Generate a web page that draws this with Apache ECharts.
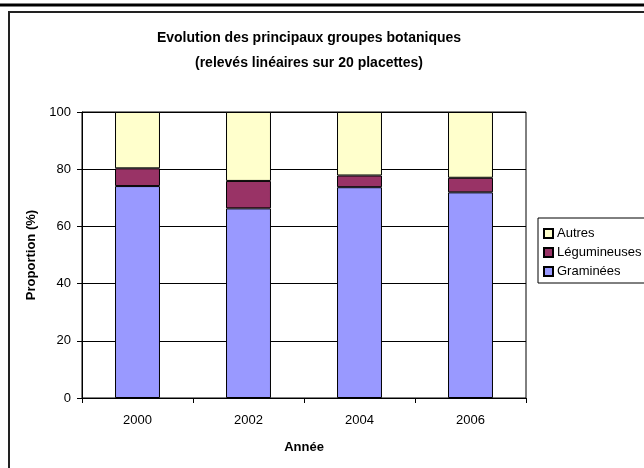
<!DOCTYPE html>
<html>
<head>
<meta charset="utf-8">
<script src="https://cdn.jsdelivr.net/npm/echarts@6/dist/echarts.min.js"></script>
<style>
    html, body { margin: 0; padding: 0; background: #fff; }
    #chart { width: 644px; height: 468px; }
</style>
</head>
<body>
<div id="chart"></div>
<script>
var years = ['2000', '2002', '2004', '2006'];
var graminees = [74.1, 66.3, 73.7, 71.9];
var legumineuses = [6.2, 9.6, 4.1, 5.1];
var autres = [19.7, 24.1, 22.2, 23.0];
var yTicks = [0, 20, 40, 60, 80, 100];

var chart = echarts.init(document.getElementById('chart'));
var font = 'Liberation Sans, Arial, sans-serif';

function barSeries(name, data, color) {
    return {
        name: name,
        type: 'bar',
        stack: 'total',
        data: data,
        barWidth: '40.5%',
        itemStyle: { color: color, borderColor: '#000', borderWidth: 1 }
    };
}

var options = {
    animation: false,
    textStyle: { fontFamily: font },
    title: {
        text: 'Evolution des principaux groupes botaniques\n(relevés linéaires sur 20 placettes)',
        left: 304,
        textAlign: 'center',
        top: 21,
        textStyle: { fontSize: 14, fontWeight: 'bold', color: '#000', lineHeight: 25, fontFamily: font }
    },
    // frame lines of the original sheet
    graphic: [
        { type: 'line', shape: { x1: 0, y1: 5, x2: 644, y2: 5 }, style: { stroke: '#000', lineWidth: 3 } },
        { type: 'rect', shape: { x: 9, y: 12, width: 700, height: 500 }, style: { fill: null, stroke: '#222', lineWidth: 2 } }
    ],
    legend: {
        orient: 'vertical',
        left: 538,
        top: 218,
        padding: [9, 30, 5, 5],
        borderColor: '#000',
        borderWidth: 1,
        itemWidth: 9,
        itemHeight: 9,
        itemGap: 6,
        icon: 'rect',
        data: ['Autres', 'Légumineuses', 'Graminées'],
        textStyle: { fontSize: 13, color: '#000', padding: [0, 0, 0, -1], fontFamily: font }
    },
    grid: { left: 82, right: 118, top: 112, bottom: 70, show: true, borderColor: '#000', borderWidth: 1 },
    xAxis: {
        type: 'category',
        data: years,
        name: 'Année',
        nameLocation: 'middle',
        nameGap: 43,
        nameTextStyle: { fontSize: 13, fontWeight: 'bold', color: '#000' },
        axisLine: { lineStyle: { color: '#000' } },
        axisTick: { show: true, length: 5, lineStyle: { color: '#000' } },
        axisLabel: { fontSize: 13, color: '#000', margin: 16 }
    },
    yAxis: {
        type: 'value',
        min: yTicks[0],
        max: yTicks[yTicks.length - 1],
        interval: 20,
        name: 'Proportion (%)',
        nameLocation: 'middle',
        nameGap: 41,
        nameTextStyle: { fontSize: 13, fontWeight: 'bold', color: '#000' },
        axisLine: { show: true, lineStyle: { color: '#000' } },
        axisTick: { show: true, length: 5, lineStyle: { color: '#000' } },
        axisLabel: { fontSize: 13, color: '#000', margin: 11 },
        splitLine: { lineStyle: { color: '#000', width: 1 } }
    },
    series: [
        barSeries('Graminées', graminees, '#9999FF'),
        barSeries('Légumineuses', legumineuses, '#993366'),
        barSeries('Autres', autres, '#FFFFCC')
    ]
};

chart.setOption(options);
</script>
</body>
</html>
